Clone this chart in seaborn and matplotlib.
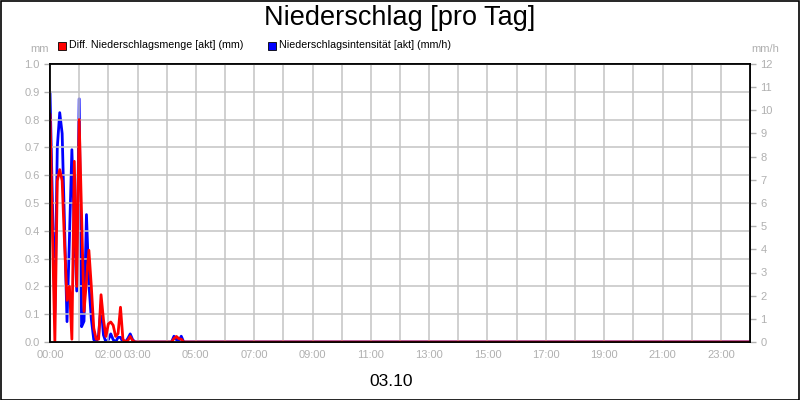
import matplotlib
matplotlib.use("Agg")
import matplotlib.pyplot as plt
import matplotlib.ticker as mticker
import numpy as np
import pandas as pd
import seaborn as sns

# 5-minute samples from 00:00, rest of day is zero
menge_mm = [0.82, 0.40, 0.0, 0.58, 0.62, 0.58, 0.35, 0.15, 0.20, 0.01,
            0.65, 0.20, 0.80, 0.45, 0.11, 0.22, 0.33, 0.20, 0.05, 0.01,
            0.01, 0.17, 0.08, 0.02, 0.065, 0.072, 0.06, 0.02, 0.03, 0.125,
            0.01, 0.0, 0.005, 0.02, 0.005, 0.0, 0.0, 0.0, 0.0, 0.0,
            0.0, 0.0, 0.0, 0.0, 0.0, 0.0, 0.0, 0.0, 0.0, 0.0,
            0.0, 0.012, 0.02, 0.012, 0.01, 0.0]
intens_mmh = [10.8, 6.0, 1.25, 8.4, 9.9, 9.0, 5.0, 0.88, 4.5, 8.3,
              5.0, 2.2, 10.5, 0.66, 0.9, 5.5, 2.5, 1.0, 0.1, 0.0,
              0.3, 1.6, 0.3, 0.0, 0.1, 0.35, 0.1, 0.0, 0.2, 0.2,
              0.0, 0.0, 0.15, 0.35, 0.1, 0.0, 0.0, 0.0, 0.0, 0.0,
              0.0, 0.0, 0.0, 0.0, 0.0, 0.0, 0.0, 0.0, 0.0, 0.0,
              0.0, 0.25, 0.1, 0.05, 0.25, 0.0]
n_day = 24 * 12 + 1
hour_labels = {0: "00:00", 2: "02:00", 3: "03:00", 5: "05:00", 7: "07:00",
               9: "09:00", 11: "11:00", 13: "13:00", 15: "15:00", 17: "17:00",
               19: "19:00", 21: "21:00", 23: "23:00"}

hours = np.arange(n_day) / 12.0
menge = np.zeros(n_day)
menge[:len(menge_mm)] = menge_mm
intens = np.zeros(n_day)
intens[:len(intens_mmh)] = intens_mmh
df = pd.DataFrame({"h": hours, "menge": menge, "intens": intens})

sns.set_style("white")
plt.rcParams["font.family"] = ["Liberation Sans", "DejaVu Sans"]

grey = "#b0b0b0"
fig = plt.figure(figsize=(8, 4), dpi=100)
ax = fig.add_axes([50 / 800, 58 / 400, 700 / 800, 278 / 400])
ax2 = ax.twinx()

sns.lineplot(data=df, x="h", y="intens", ax=ax2, color="#0000ff", linewidth=2.0,
             solid_joinstyle="round")
sns.lineplot(data=df, x="h", y="menge", ax=ax, color="#ff0000", linewidth=2.0,
             solid_joinstyle="round")
ax.set_zorder(ax2.get_zorder() + 1)
ax.patch.set_visible(False)

ax.set_xlim(0, 24)
ax.set_ylim(0, 1.0)
ax2.set_ylim(0, 12)
ax.set_xlabel("")
ax.set_ylabel("")
ax2.set_ylabel("")

ax.xaxis.set_major_locator(mticker.MultipleLocator(1))
ax.set_xticklabels([hour_labels.get(int(round(t)), "") for t in ax.get_xticks()])
ax.yaxis.set_major_locator(mticker.MultipleLocator(0.1))
ax.yaxis.set_major_formatter(mticker.FormatStrFormatter("%.1f"))
ax2.yaxis.set_major_locator(mticker.MultipleLocator(1))
ax.set_xlim(0, 24)

ax2.grid(False)
ax.grid(True, color="#c4c4c4", linewidth=1.1)
ax.set_axisbelow(True)
for a in (ax, ax2):
    for s in a.spines.values():
        s.set_color("black")
        s.set_linewidth(1.2)
    a.tick_params(colors=grey, labelsize=8, length=4, width=1, direction="out")
    a.tick_params(axis="both", labelcolor=grey)
ax.tick_params(axis="x", pad=2)

fig.text(400 / 800, 1 - 18 / 400, "Niederschlag [pro Tag]", ha="center", va="center",
         fontsize=19.5, color="black")
fig.text(40 / 800, 1 - 49 / 400, "mm", ha="center", va="center", fontsize=8, color=grey)
fig.text(765 / 800, 1 - 49 / 400, "mm/h", ha="center", va="center", fontsize=8, color=grey)
fig.text(391 / 800, 1 - 381 / 400, "03.10", ha="center", va="center", fontsize=12.5,
         color="black")

# legend row
for x0, col, txt in [(58, "#ff0000", "Diff. Niederschlagsmenge [akt] (mm)"),
                     (268, "#0000ff", "Niederschlagsintensität [akt] (mm/h)")]:
    fig.patches.append(plt.Rectangle((x0 / 800, 1 - 50 / 400), 8 / 800, 8 / 400,
                                     transform=fig.transFigure, facecolor=col,
                                     edgecolor="black", linewidth=0.6))
    fig.text((x0 + 11) / 800, 1 - 45.5 / 400, txt, ha="left", va="center",
             fontsize=7.7, color="black")

# outer frame
fig.patches.append(plt.Rectangle((0.5 / 800, 0.5 / 400), 798.5 / 800, 398.5 / 400,
                                 transform=fig.transFigure, fill=False,
                                 edgecolor="black", linewidth=1.2))

fig.savefig("out.png", dpi=100)
